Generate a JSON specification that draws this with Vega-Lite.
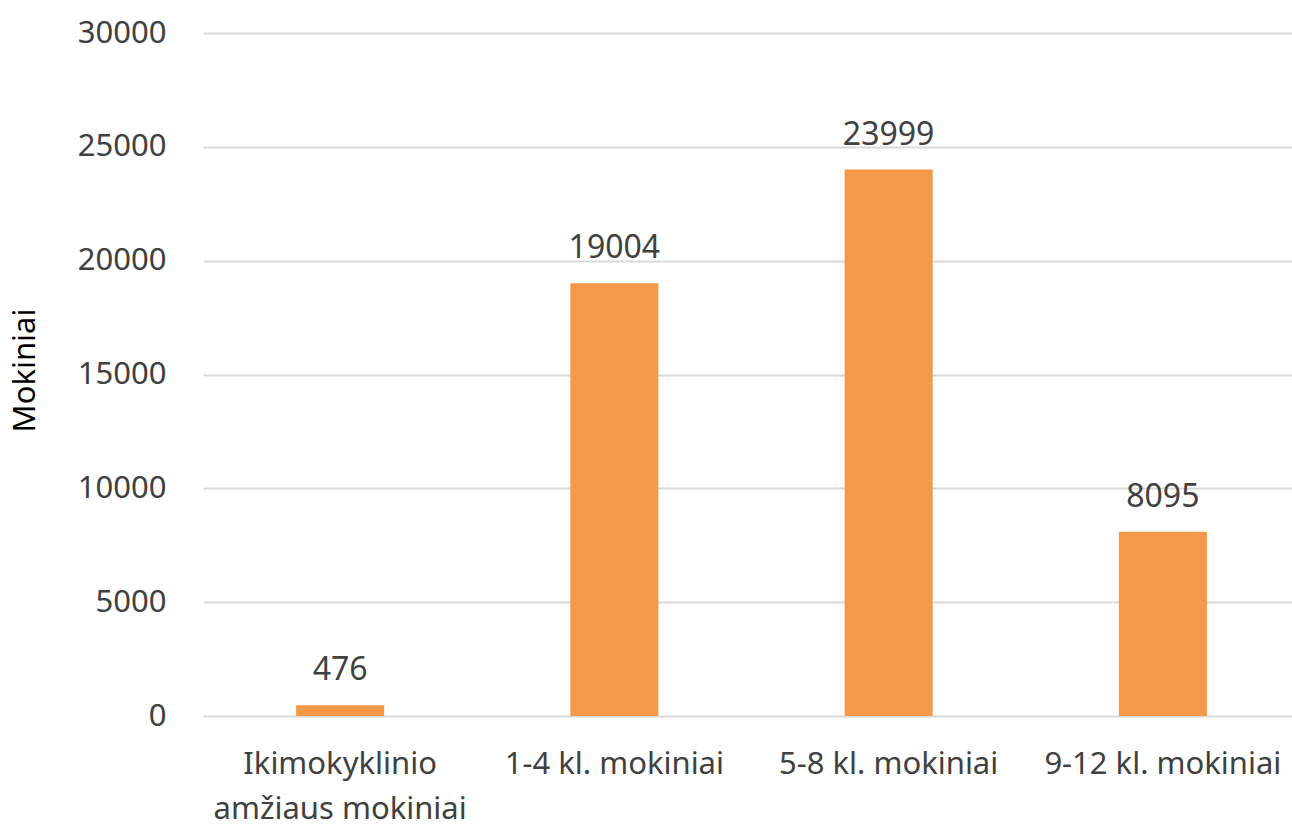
{
  "$schema": "https://vega.github.io/schema/vega-lite/v6.json",
  "autosize": {"type": "none"},
  "width": 1097,
  "height": 683,
  "padding": {"left": 203, "top": 33, "right": 0, "bottom": 111},
  "background": "white",
  "data": {
    "values": [
      {"grupe": "Ikimokyklinio|amžiaus mokiniai", "mokiniai": 476},
      {"grupe": "1-4 kl. mokiniai", "mokiniai": 19004},
      {"grupe": "5-8 kl. mokiniai", "mokiniai": 23999},
      {"grupe": "9-12 kl. mokiniai", "mokiniai": 8095}
    ]
  },
  "encoding": {
    "x": {
      "field": "grupe",
      "type": "nominal",
      "sort": null,
      "scale": {"paddingInner": 0.679, "paddingOuter": 0.3395},
      "axis": {
        "title": null,
        "labelAngle": 0,
        "labelExpr": "split(datum.label, '|')",
        "labelLimit": 0,
        "labelLineHeight": 45,
        "labelPadding": 48,
        "labelBaseline": "middle",
        "domain": false,
        "ticks": false
      }
    },
    "y": {
      "field": "mokiniai",
      "type": "quantitative",
      "scale": {"domain": [0, 30000]},
      "axis": {
        "title": "Mokiniai",
        "values": [0, 5000, 10000, 15000, 20000, 25000, 30000],
        "format": "d",
        "labelPadding": 37,
        "domain": false,
        "ticks": false,
        "titleAngle": -90,
        "titleX": -178,
        "titleY": 337,
        "titleAlign": "center",
        "titleBaseline": "middle"
      }
    }
  },
  "layer": [
    {
      "mark": {"type": "bar", "color": "#F4994A"}
    },
    {
      "mark": {"type": "text", "baseline": "bottom", "dy": -18, "fontSize": 32, "font": "Noto Sans", "color": "#404040"},
      "encoding": {"text": {"field": "mokiniai", "type": "quantitative", "format": "d"}}
    }
  ],
  "config": {
    "view": {"stroke": null},
    "axis": {
      "labelFont": "Noto Sans",
      "labelFontSize": 31,
      "labelColor": "#404040",
      "titleFont": "Noto Sans",
      "titleFontSize": 31,
      "titleFontWeight": "normal",
      "titleColor": "#000000",
      "gridColor": "#D9D9D9",
      "gridWidth": 2
    }
  }
}
